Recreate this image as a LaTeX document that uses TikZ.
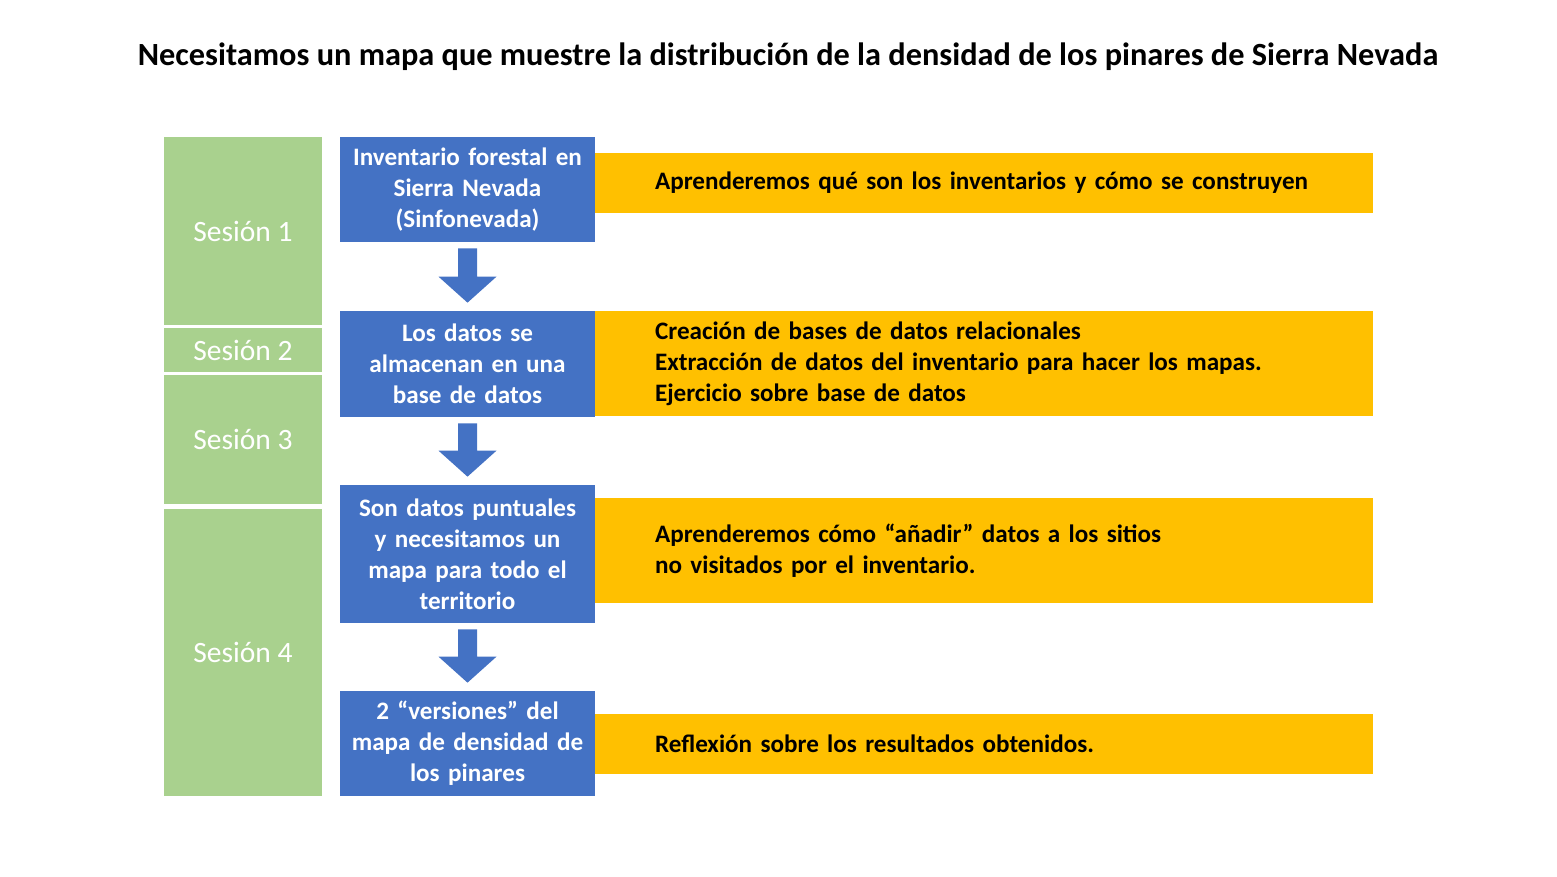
\documentclass[tikz,border=0pt]{standalone}
\usepackage{fontspec}
\setmainfont{Carlito}
\usetikzlibrary{calc}

\definecolor{verde}{HTML}{A9D18E}
\definecolor{azul}{HTML}{4472C4}
\definecolor{naranja}{HTML}{FFC000}

\begin{document}
\begin{tikzpicture}[x = 0.02cm, y = -0.02cm,
	sesion/.style = {fill = verde, text = white, minimum width = 3.16cm, inner sep = 0,
		font = \fontsize{16.8}{20}\selectfont},
	paso/.style = {fill = azul, text = white, text width = 5.1cm, align = center, inner sep = 0,
		font = \fontsize{14.3}{17.6}\bfseries\selectfont},
	nota/.style = {fill = naranja, text width = 13.16cm, align = left, inner xsep = 1.2cm, inner ysep = 0,
		font = \fontsize{14.3}{17.6}\bfseries\selectfont}]

	% Frame

	\useasboundingbox (0, 0) rectangle (1557, 876);

	% Title

	\node (titulo) [anchor = base, font = \fontsize{18.4}{22}\bfseries\selectfont] at (788, 65)
		{Necesitamos un mapa que muestre la distribución de la densidad de los pinares de Sierra Nevada};

	% Sessions

	\node (s1) [sesion, minimum height = 3.76cm] at (243, 231) {Sesión 1};
	\node (s2) [sesion, minimum height = 0.88cm] at (243, 350) {Sesión 2};
	\node (s3) [sesion, minimum height = 2.58cm] at (243, 439.5) {Sesión 3};
	\node (s4) [sesion, minimum height = 5.74cm] at (243, 652.5) {Sesión 4};

	% Notes

	\node (n1) [nota, minimum height = 1.2cm] at (984, 183)
		{Aprenderemos qué son los inventarios y cómo se construyen};
	\node (n2) [nota, minimum height = 2.1cm] at (984, 363.5)
		{Creación de bases de datos relacionales\\ Extracción de datos del inventario para hacer los mapas.\\ Ejercicio sobre base de datos};
	\node (n3) [nota, minimum height = 2.1cm] at (984, 550.5)
		{Aprenderemos cómo “añadir” datos a los sitios\\ no visitados por el inventario.};
	\node (n4) [nota, minimum height = 1.2cm] at (984, 743.5)
		{Reflexión sobre los resultados obtenidos.};

	% Steps

	\node (inventario) [paso, minimum height = 2.1cm] at (467.5, 189.5)
		{Inventario forestal en\\ Sierra Nevada\\ (Sinfonevada)};
	\node (datos) [paso, minimum height = 2.12cm] at (467.5, 364)
		{Los datos se\\ almacenan en una\\ base de datos};
	\node (puntuales) [paso, minimum height = 2.76cm] at (467.5, 554)
		{Son datos puntuales\\ y necesitamos un\\ mapa para todo el\\ territorio};
	\node (versiones) [paso, minimum height = 2.1cm] at (467.5, 743.5)
		{2 “versiones” del\\ mapa de densidad de\\ los pinares};

	% Block arrows between steps

	\foreach \a/\b in {inventario/datos, datos/puntuales, puntuales/versiones}
		\fill [azul] ($(\a.south) + (-9.5, 6)$) -- ($(\a.south) + (9.5, 6)$)
			-- ($(\b.north) + (9.5, -34)$) -- ($(\b.north) + (29, -34)$)
			-- ($(\b.north) + (0, -8)$)
			-- ($(\b.north) + (-29, -34)$) -- ($(\b.north) + (-9.5, -34)$) -- cycle;

\end{tikzpicture}
\end{document}
